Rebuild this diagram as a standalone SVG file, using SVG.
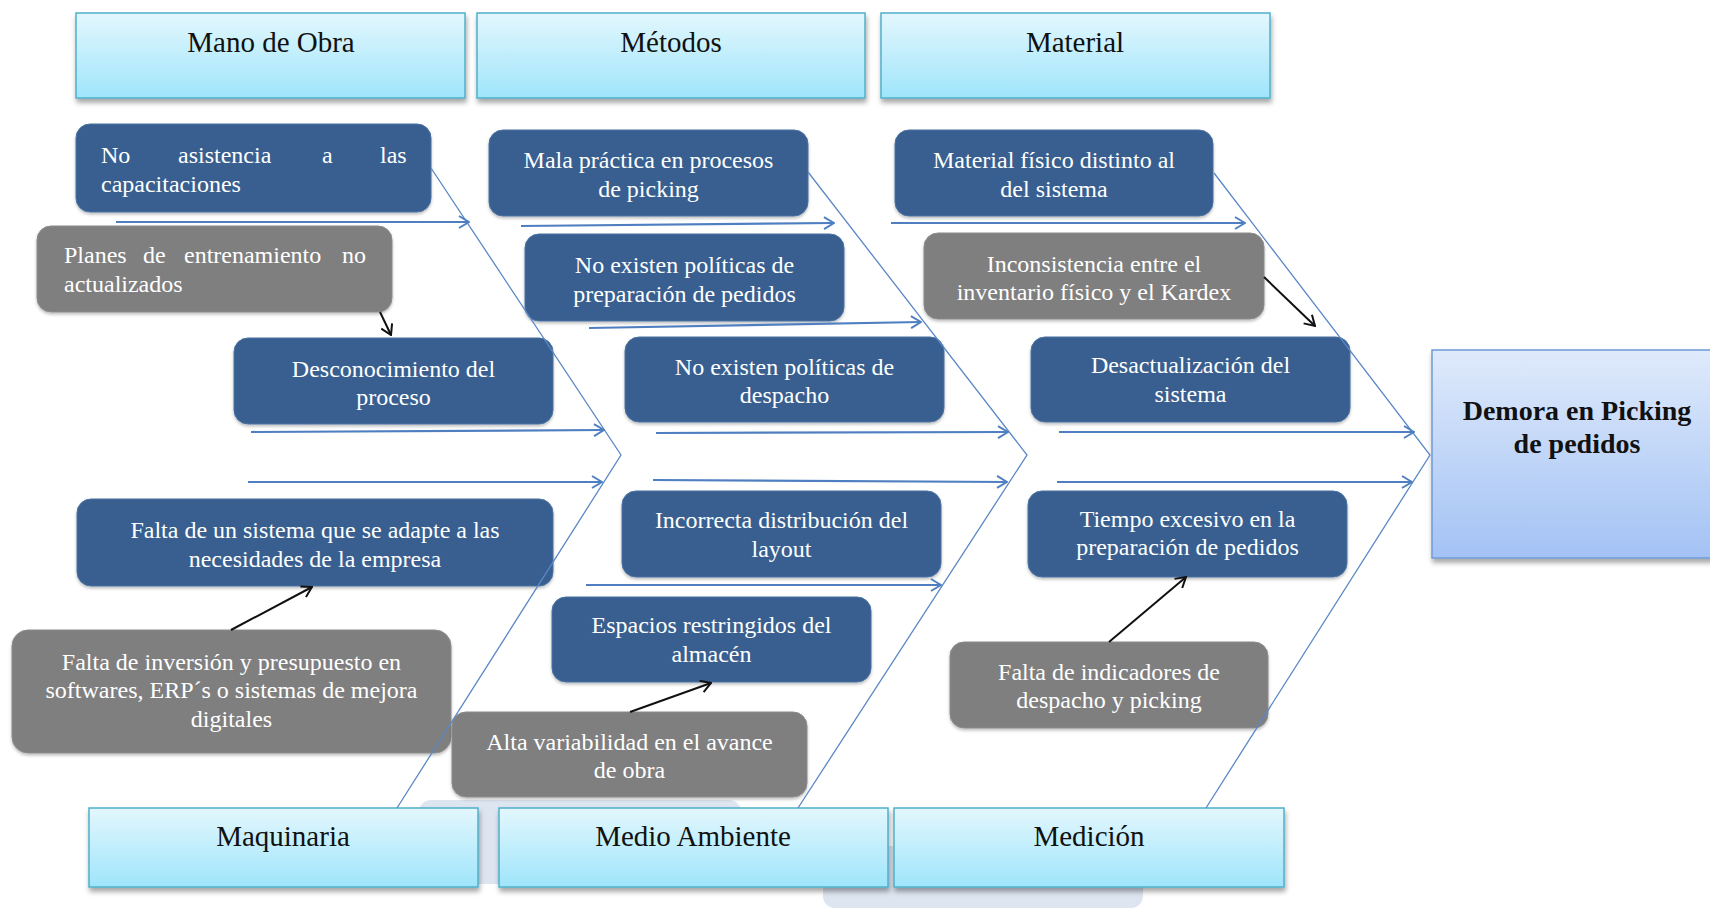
<svg xmlns="http://www.w3.org/2000/svg" width="1710" height="913" viewBox="0 0 1710 913">
  <defs>
    <linearGradient id="catFill" x1="0" y1="0" x2="0" y2="1">
      <stop offset="0" stop-color="#e3f7fd"/>
      <stop offset="1" stop-color="#9fe5fb"/>
    </linearGradient>
    <linearGradient id="effectFill" x1="0" y1="0" x2="0" y2="1">
      <stop offset="0" stop-color="#dfeafb"/>
      <stop offset="1" stop-color="#a3c2f4"/>
    </linearGradient>
    <filter id="shadow" x="-5%" y="-10%" width="112%" height="130%">
      <feDropShadow dx="1" dy="4" stdDeviation="2.5" flood-color="#000" flood-opacity="0.35"/>
    </filter>
    <filter id="soft" x="-5%" y="-10%" width="112%" height="130%">
      <feDropShadow dx="0" dy="2" stdDeviation="1.5" flood-color="#000" flood-opacity="0.25"/>
    </filter>
    <marker id="blueHead" viewBox="0 0 12 14" refX="11" refY="7" markerWidth="12" markerHeight="14" markerUnits="userSpaceOnUse" orient="auto">
      <path d="M1,1 L11,7 L1,13" fill="none" stroke="#4f7fc0" stroke-width="2"/>
    </marker>
    <marker id="blackHead" viewBox="0 0 12 14" refX="11" refY="7" markerWidth="12" markerHeight="14" markerUnits="userSpaceOnUse" orient="auto">
      <path d="M1,1 L11,7 L1,13" fill="none" stroke="#111" stroke-width="2"/>
    </marker>
  </defs>
  <style>
    .cat { fill: url(#catFill); stroke: #4fb0c9; stroke-width: 1.5; filter: url(#shadow); }
    .catText { font-family: "Liberation Serif", "Times New Roman", serif; font-size: 29px; fill: #111; text-anchor: middle; }
    .blue { fill: #375f90; stroke: #4a72a3; stroke-width: 1; filter: url(#soft); }
    .grey { fill: #7f7f7f; stroke: #8c8c8c; stroke-width: 1; filter: url(#soft); }
    .nt { font-family: "Liberation Serif", "Times New Roman", serif; font-size: 24px; fill: #ffffff; text-anchor: middle; }
    .ntl { font-family: "Liberation Serif", "Times New Roman", serif; font-size: 24px; fill: #ffffff; }
    .effect { fill: url(#effectFill); stroke: #6f9bd6; stroke-width: 1.5; filter: url(#shadow); }
    .effText { font-family: "Liberation Serif", "Times New Roman", serif; font-size: 28px; font-weight: bold; fill: #111; text-anchor: middle; }
    .bone { fill: none; stroke: #5a88c6; stroke-width: 1.3; }
    .rib { fill: none; stroke: #4f7fc0; stroke-width: 2.2; marker-end: url(#blueHead); }
    .sub { fill: none; stroke: #111; stroke-width: 2; marker-end: url(#blackHead); }
    .haze { fill: #dde5f0; }
  </style>

  <!-- pale backdrop panels behind the lower category row -->
  <rect class="haze" x="419" y="800" width="322" height="84" rx="12"/>
  <rect class="haze" x="823" y="846" width="320" height="62" rx="12"/>

  <!-- category headers -->
  <g id="cat-mano-de-obra">
    <rect class="cat" x="76" y="13" width="389" height="85"/>
    <text class="catText" x="271" y="52">Mano de Obra</text>
  </g>
  <g id="cat-metodos">
    <rect class="cat" x="477" y="13" width="388" height="85"/>
    <text class="catText" x="671" y="52">Métodos</text>
  </g>
  <g id="cat-material">
    <rect class="cat" x="881" y="13" width="389" height="85"/>
    <text class="catText" x="1075" y="52">Material</text>
  </g>
  <g id="cat-maquinaria">
    <rect class="cat" x="89" y="808" width="389" height="79"/>
    <text class="catText" x="283" y="846">Maquinaria</text>
  </g>
  <g id="cat-medio-ambiente">
    <rect class="cat" x="499" y="808" width="389" height="79"/>
    <text class="catText" x="693" y="846">Medio Ambiente</text>
  </g>
  <g id="cat-medicion">
    <rect class="cat" x="894" y="808" width="390" height="79"/>
    <text class="catText" x="1089" y="846">Medición</text>
  </g>

  <!-- effect -->
  <g id="effect">
    <rect class="effect" x="1432" y="350" width="290" height="208"/>
    <text class="effText" x="1577" y="420">Demora en Picking</text>
    <text class="effText" x="1577" y="453">de pedidos</text>
  </g>

  <!-- causes: Mano de Obra -->
  <g id="no-asistencia">
    <rect class="blue" x="76" y="124" width="355" height="88" rx="14"/>
    <text class="ntl" y="163"><tspan x="101">No</tspan><tspan x="178">asistencia</tspan><tspan x="322">a</tspan><tspan x="380">las</tspan></text>
    <text class="ntl" x="101" y="192">capacitaciones</text>
  </g>
  <g id="planes-entrenamiento">
    <rect class="grey" x="37" y="226" width="355" height="86" rx="14"/>
    <text class="ntl" y="263"><tspan x="64">Planes</tspan><tspan x="143">de</tspan><tspan x="184">entrenamiento</tspan><tspan x="342">no</tspan></text>
    <text class="ntl" x="64" y="292">actualizados</text>
  </g>
  <g id="desconocimiento">
    <rect class="blue" x="234" y="338" width="319" height="86" rx="14"/>
    <text class="nt" x="393.5" y="377">Desconocimiento del</text>
    <text class="nt" x="393.5" y="405">proceso</text>
  </g>

  <!-- causes: Métodos -->
  <g id="mala-practica">
    <rect class="blue" x="489" y="130" width="319" height="86" rx="14"/>
    <text class="nt" x="648.5" y="168">Mala práctica en procesos</text>
    <text class="nt" x="648.5" y="197">de picking</text>
  </g>
  <g id="politicas-preparacion">
    <rect class="blue" x="525" y="234" width="319" height="87" rx="14"/>
    <text class="nt" x="684.5" y="273">No existen políticas de</text>
    <text class="nt" x="684.5" y="302">preparación de pedidos</text>
  </g>
  <g id="politicas-despacho">
    <rect class="blue" x="625" y="337" width="319" height="85" rx="14"/>
    <text class="nt" x="784.5" y="375">No existen políticas de</text>
    <text class="nt" x="784.5" y="403">despacho</text>
  </g>

  <!-- causes: Material -->
  <g id="material-fisico">
    <rect class="blue" x="895" y="130" width="318" height="86" rx="14"/>
    <text class="nt" x="1054" y="168">Material físico distinto al</text>
    <text class="nt" x="1054" y="197">del sistema</text>
  </g>
  <g id="inconsistencia">
    <rect class="grey" x="924" y="233" width="340" height="86" rx="14"/>
    <text class="nt" x="1094" y="272">Inconsistencia entre el</text>
    <text class="nt" x="1094" y="300">inventario físico y el Kardex</text>
  </g>
  <g id="desactualizacion">
    <rect class="blue" x="1031" y="337" width="319" height="85" rx="14"/>
    <text class="nt" x="1190.5" y="373">Desactualización del</text>
    <text class="nt" x="1190.5" y="402">sistema</text>
  </g>

  <!-- causes: Maquinaria -->
  <g id="falta-sistema">
    <rect class="blue" x="77" y="499" width="476" height="87" rx="14"/>
    <text class="nt" x="315" y="538">Falta de un sistema que se adapte a las</text>
    <text class="nt" x="315" y="567">necesidades de la empresa</text>
  </g>
  <g id="falta-inversion">
    <rect class="grey" x="12" y="630" width="439" height="123" rx="16"/>
    <text class="nt" x="231.5" y="670">Falta de inversión y presupuesto en</text>
    <text class="nt" x="231.5" y="698">softwares, ERP´s o sistemas de mejora</text>
    <text class="nt" x="231.5" y="727">digitales</text>
  </g>

  <!-- causes: Medio Ambiente -->
  <g id="incorrecta-distribucion">
    <rect class="blue" x="622" y="491" width="319" height="86" rx="14"/>
    <text class="nt" x="781.5" y="528">Incorrecta distribución del</text>
    <text class="nt" x="781.5" y="557">layout</text>
  </g>
  <g id="espacios-restringidos">
    <rect class="blue" x="552" y="597" width="319" height="85" rx="14"/>
    <text class="nt" x="711.5" y="633">Espacios restringidos del</text>
    <text class="nt" x="711.5" y="662">almacén</text>
  </g>
  <g id="alta-variabilidad">
    <rect class="grey" x="452" y="712" width="355" height="85" rx="14"/>
    <text class="nt" x="629.5" y="750">Alta variabilidad en el avance</text>
    <text class="nt" x="629.5" y="778">de obra</text>
  </g>

  <!-- causes: Medición -->
  <g id="tiempo-excesivo">
    <rect class="blue" x="1028" y="491" width="319" height="86" rx="14"/>
    <text class="nt" x="1187.5" y="527">Tiempo excesivo en la</text>
    <text class="nt" x="1187.5" y="555">preparación de  pedidos</text>
  </g>
  <g id="falta-indicadores">
    <rect class="grey" x="950" y="642" width="318" height="86" rx="14"/>
    <text class="nt" x="1109" y="680">Falta de indicadores de</text>
    <text class="nt" x="1109" y="708">despacho y picking</text>
  </g>

  <!-- connectors -->
  <g id="connectors">
    <!-- chevron bones -->
    <polyline class="bone" points="431,168 621,455 397,808"/>
    <polyline class="bone" points="808,172 1027,455 798,808"/>
    <polyline class="bone" points="1214,173 1430,455 1206,808"/>

    <!-- horizontal ribs -->
    <path class="rib" d="M116,222 L469,222"/>
    <path class="rib" d="M251,432 L604,430"/>
    <path class="rib" d="M248,482 L602,482"/>
    <path class="rib" d="M521,226 L834,223"/>
    <path class="rib" d="M589,328 L921,322"/>
    <path class="rib" d="M656,433 L1008,432"/>
    <path class="rib" d="M653,480 L1007,482"/>
    <path class="rib" d="M586,585 L941,585"/>
    <path class="rib" d="M891,223 L1245,223"/>
    <path class="rib" d="M1059,432 L1414,432"/>
    <path class="rib" d="M1057,482 L1412,482"/>

    <!-- sub-cause links -->
    <path class="sub" d="M380,312 L391,335"/>
    <path class="sub" d="M1264,277 L1315,326"/>
    <path class="sub" d="M231,630 L312,587"/>
    <path class="sub" d="M630,712 L711,683"/>
    <path class="sub" d="M1109,642 L1186,577"/>
  </g>
</svg>
